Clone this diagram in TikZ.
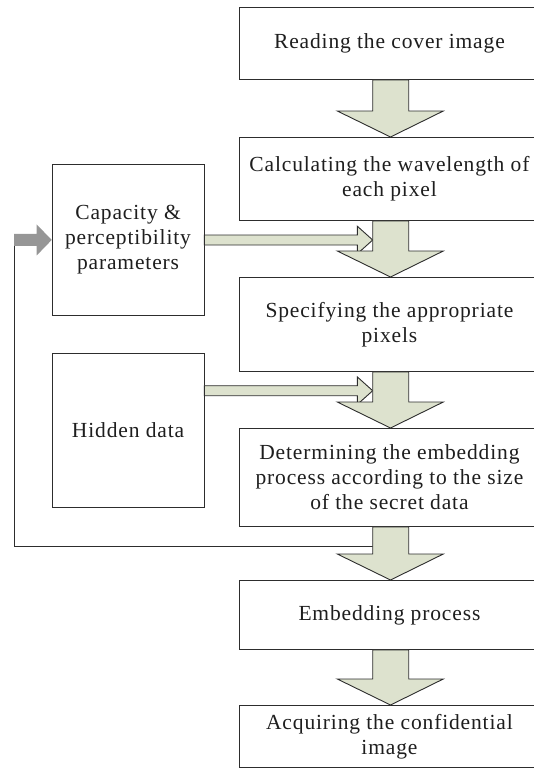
\documentclass[tikz,border=0pt]{standalone}
\usepackage{fontspec}
\setmainfont{Liberation Serif}[LetterSpace=4]
\usetikzlibrary{calc}
\definecolor{arrowfill}{RGB}{221,226,206}
\definecolor{linegray}{RGB}{45,45,45}
\definecolor{txtcol}{RGB}{30,30,30}
\definecolor{feedgray}{RGB}{150,150,150}
\newcommand{\vfatarrow}[2]{%
  \filldraw[fat] (#1.south -| sl) -- ($(#2.north -| sl)+(0,26)$) -- ($(#2.north -| hl)+(0,26)$) -- (#2.north -| tipx) -- ($(#2.north -| hr)+(0,26)$) -- ($(#2.north -| sr)+(0,26)$) -- (#1.south -| sr) -- cycle;}
\newcommand{\hfatarrow}[1]{%
  \filldraw[fat] ($(#1)+(0,5)$) -- ($(#1 -| sl)+(-15.4,5)$) -- ($(#1 -| sl)+(-15.4,13.8)$) -- (#1 -| sl) -- ($(#1 -| sl)+(-15.4,-13.8)$) -- ($(#1 -| sl)+(-15.4,-5)$) -- ($(#1)+(0,-5)$) -- cycle;}
\begin{document}
\begin{tikzpicture}[x=1pt,y=1pt,
  boxtext/.style={font=\fontsize{21.5}{25}\selectfont, text=txtcol, align=center},
  proc/.style={draw=linegray, line width=0.9pt, fill=white, anchor=north west, minimum width=300pt, inner sep=0pt, boxtext},
  side/.style={draw=linegray, line width=0.9pt, fill=white, anchor=north west, minimum width=151.8pt, inner sep=0pt, boxtext},
  fat/.style={draw=linegray, line width=0.9pt, fill=arrowfill, line join=miter},
  feed/.style={draw=linegray, line width=0.9pt}]
\useasboundingbox (0,0) rectangle (534,-777);
\coordinate (sl) at (372.7,0);
\coordinate (sr) at (408.7,0);
\coordinate (hl) at (337.3,0);
\coordinate (hr) at (443.3,0);
\coordinate (tipx) at (390.5,0);
% process boxes
\node[proc, minimum height=72pt] (b1) at (239,-7) {Reading the cover image};
\node[proc, minimum height=83pt] (b2) at (239,-137) {Calculating the wavelength of\\each pixel};
\node[proc, minimum height=94pt] (b3) at (239,-277) {Specifying the appropriate\\pixels};
\node[proc, minimum height=98pt] (b4) at (239,-428) {Determining the embedding\\process according to the size\\of the secret data};
\node[proc, minimum height=69pt] (b5) at (239,-580) {Embedding process};
\node[proc, minimum height=62pt] (b6) at (239,-705) {Acquiring the confidential\\image};
% side boxes
\node[side, minimum height=151pt] (cap) at (51.7,-164) {Capacity \&\\perceptibility\\parameters};
\node[side, minimum height=154pt] (hid) at (51.7,-353) {Hidden data};
% horizontal arrows
\coordinate (c1) at ($(cap.north east)+(0,-76)$);
\coordinate (c2) at ($(hid.north east)+(0,-37.7)$);
\hfatarrow{c1}
\hfatarrow{c2}
% feedback line and grey arrow
\coordinate (fb) at ($(b4.south -| sl)+(0,-20)$);
\coordinate (gl) at ($(cap.west)+(-37.7,-6)$);
\draw[feed] (fb) -- (fb -| gl) -- (gl);
\fill[feedgray] ($(cap.west)+(-37.7,6)$) -- ($(cap.west)+(-15,6)$) -- ($(cap.west)+(-15,15.5)$) -- (cap.west) -- ($(cap.west)+(-15,-15.5)$) -- ($(cap.west)+(-15,-6)$) -- ($(cap.west)+(-37.7,-6)$) -- cycle;
% vertical arrows
\vfatarrow{b1}{b2}
\vfatarrow{b2}{b3}
\vfatarrow{b3}{b4}
\vfatarrow{b4}{b5}
\vfatarrow{b5}{b6}
\end{tikzpicture}
\end{document}
